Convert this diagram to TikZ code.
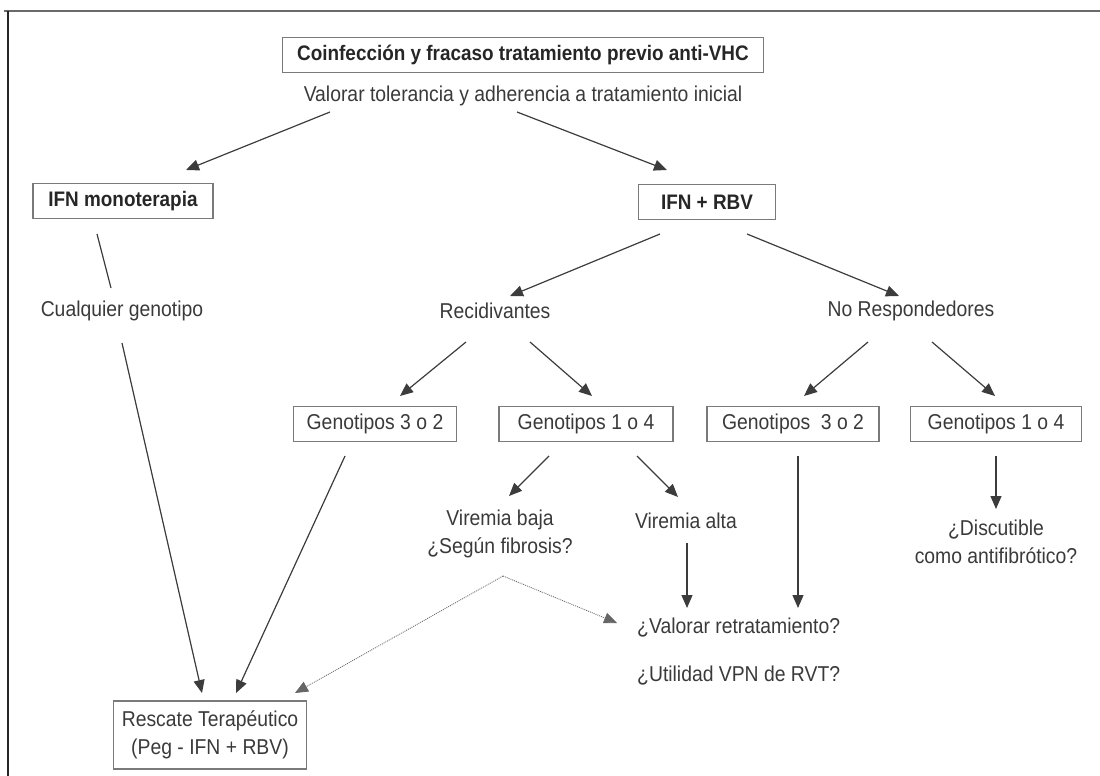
\documentclass[tikz,border=0pt]{standalone}
\usepackage{fontspec}
\setmainfont{Liberation Sans}[FakeStretch=0.9]
\usetikzlibrary{arrows.meta,calc}
\definecolor{txt}{HTML}{3A3A3A}
\definecolor{boldtxt}{HTML}{262626}
\definecolor{boxc}{HTML}{7A7A7A}
\definecolor{linec}{HTML}{3C3C3C}
\definecolor{framec}{HTML}{6A6A6A}
\tikzset{
  lbl/.style={font=\fontsize{21.5}{28}\selectfont, text=txt, inner sep=0pt, align=center},
  boxnode/.style={lbl, draw=boxc, line width=1.4pt, minimum height=35pt},
  boldbox/.style={boxnode, font=\fontsize{21}{28}\selectfont\bfseries, text=boldtxt},
  arr/.style={draw=linec, line width=1.2pt, -{Triangle[length=13pt,width=11pt]}},
  plain/.style={draw=linec, line width=1.2pt},
  dots/.style={draw=black!60, line width=0.8pt, dash pattern=on 1pt off 1pt, -{Triangle[length=13pt,width=11pt]}},
}
\begin{document}
\begin{tikzpicture}[x=1pt,y=-1pt]
\useasboundingbox (0,0) rectangle (1100,776);
% frame
\draw[framec, line width=2.5pt] (4,11) -- (1100,11);
\draw[black!85, line width=2pt] (8,11) -- (8,776);

% nodes
\node[boldbox, minimum width=481pt] (title) at (523,55) {Coinfección y fracaso tratamiento previo anti-VHC};
\node[lbl] (v) at (523,96) {Valorar tolerancia y adherencia a tratamiento inicial};
\node[boldbox, minimum width=180pt] (mono) at (123,201) {IFN monoterapia};
\node[boldbox, minimum width=137pt] (rbv) at (707,202) {IFN + RBV};
\node[lbl] (cual) at (122,311) {Cualquier genotipo};
\node[lbl] (rec) at (495,311) {Recidivantes};
\node[lbl] (nores) at (911,311) {No Respondedores};
\node[boxnode, minimum width=163pt] (g32a) at (375,424) {Genotipos 3 o 2};
\node[boxnode, minimum width=174pt] (g14a) at (586,424) {Genotipos 1 o 4};
\node[boxnode, minimum width=172pt] (g32b) at (793,424) {Genotipos\ \ 3 o 2};
\node[boxnode, minimum width=171pt] (g14b) at (996,424) {Genotipos 1 o 4};
\node[lbl] (vbaja) at (500,534) {Viremia baja\\¿Según fibrosis?};
\node[lbl] (valta) at (686,521) {Viremia alta};
\node[lbl] (disc) at (996,542) {¿Discutible\\como antifibrótico?};
\node[lbl, anchor=west] (valret) at (637,628) {¿Valorar retratamiento?};
\node[lbl, anchor=west] (util) at (637,676) {¿Utilidad VPN de RVT?};
\node[boxnode, minimum width=193pt, minimum height=68pt] (resc) at (210,735) {Rescate Terapéutico\\(Peg - IFN + RBV)};

% connectors
\draw[arr] ($(v)+(-193,16)$) -- ($(mono)+(63,-31)$);
\draw[arr] ($(v)+(-6,16)$) -- ($(rbv)+(-40,-32)$);
\draw[plain] ($(mono)+(-26,33)$) -- ($(cual)+(-11,-23)$);
\draw[arr] ($(cual)+(0,32)$) -- ($(resc)+(-8,-42)$);
\draw[arr] ($(rbv)+(-47,32)$) -- ($(rec)+(15,-15)$);
\draw[arr] ($(rbv)+(40,32)$) -- ($(nores)+(-12,-15)$);
\draw[arr] ($(rec)+(-29,31)$) -- ($(g32a)+(25,-28)$);
\draw[arr] ($(rec)+(35,31)$) -- ($(g14a)+(6,-28)$);
\draw[arr] ($(nores)+(-43,31)$) -- ($(g32b)+(11,-28)$);
\draw[arr] ($(nores)+(21,31)$) -- ($(g14b)+(-1,-28)$);
\draw[arr] ($(g32a)+(-30,32)$) -- ($(resc)+(26,-42)$);
\draw[arr] ($(g14a)+(-37,32)$) -- ($(vbaja)+(9,-38)$);
\draw[arr] ($(g14a)+(51,32)$) -- ($(valta)+(-8,-24)$);
\draw[arr] ($(valta)+(1,22)$) -- ($(valret.west)+(50,-20)$);
\draw[arr] ($(g32b)+(5,32)$) -- ($(valret.west)+(161,-20)$);
\draw[arr] ($(g14b)+(0,32)$) -- ($(disc)+(0,-33)$);
\coordinate (apex) at ($(vbaja)+(3,42)$);
\draw[dots] (apex) -- ($(resc)+(85,-42)$);
\draw[dots] (apex) -- ($(valret.west)+(-20,-5)$);
\end{tikzpicture}
\end{document}
